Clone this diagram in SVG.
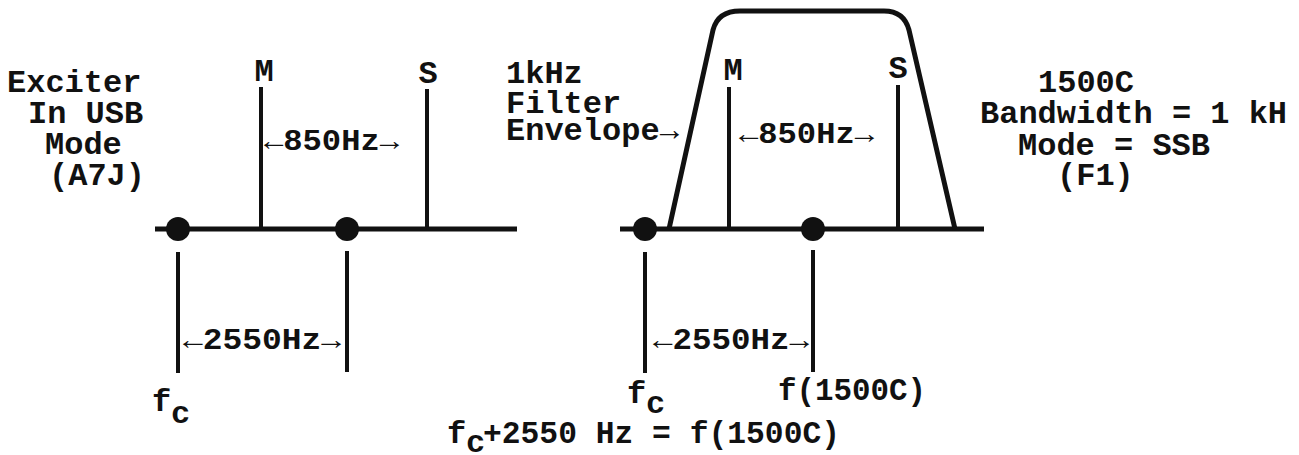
<svg xmlns="http://www.w3.org/2000/svg" width="1299" height="455" viewBox="0 0 1299 455">
<style>
.t{font-family:"Liberation Mono","DejaVu Sans Mono",monospace;font-weight:bold;font-size:32px;fill:#111}
.s{font-size:29px}
.ln{stroke:#111;stroke-width:4;fill:none;stroke-linecap:butt}
.ax{stroke:#111;stroke-width:5;fill:none}
.dot{fill:#111}
</style>
<rect width="1299" height="455" fill="#fff"/>
<g id="connectors">
  <line class="ax" x1="155" y1="229" x2="517" y2="229"/>
  <line class="ln" x1="261" y1="87" x2="261" y2="229"/>
  <line class="ln" x1="427" y1="89" x2="427" y2="229"/>
  <line class="ln" x1="178" y1="252" x2="178" y2="373"/>
  <line class="ln" x1="347" y1="251" x2="347" y2="372"/>
  <line class="ax" x1="620" y1="229" x2="984" y2="229"/>
  <line class="ln" x1="729" y1="87" x2="729" y2="229"/>
  <line class="ln" x1="898" y1="85" x2="898" y2="229"/>
  <line class="ln" x1="645" y1="252" x2="645" y2="373"/>
  <line class="ln" x1="813" y1="250" x2="813" y2="372"/>
  <path class="ax" d="M669,229 L713,30 Q718,11 740,11 L884,11 Q904,11 909,30 L955,229"/>
</g>
<g id="dots">
  <circle class="dot" cx="178" cy="229" r="12"/>
  <circle class="dot" cx="347" cy="229" r="12"/>
  <circle class="dot" cx="645" cy="229" r="12"/>
  <circle class="dot" cx="813" cy="229" r="12"/>
</g>
<g id="exciter-label">
  <text class="t" x="7" y="92">Exciter</text>
  <text class="t" x="28" y="123">In USB</text>
  <text class="t" x="45" y="154">Mode</text>
  <text class="t" x="49" y="185">(A7J)</text>
</g>
<g id="left-M"><text class="t" x="264" y="81" text-anchor="middle">M</text></g>
<g id="left-S"><text class="t" x="428" y="83" text-anchor="middle">S</text></g>
<g id="left-850"><text class="t s" x="264" y="150" textLength="135" lengthAdjust="spacingAndGlyphs">←850Hz→</text></g>
<g id="left-2550"><text class="t s" x="183" y="349" textLength="158" lengthAdjust="spacingAndGlyphs">←2550Hz→</text></g>
<g id="left-fc"><text class="t" x="152" y="411">f</text><text class="t" x="171" y="423">c</text></g>
<g id="filter-label">
  <text class="t" x="506" y="83">1kHz</text>
  <text class="t" x="506" y="113">Filter</text>
  <text class="t" x="506" y="140">Envelope→</text>
</g>
<g id="right-M"><text class="t" x="733" y="80" text-anchor="middle">M</text></g>
<g id="right-S"><text class="t" x="898" y="78" text-anchor="middle">S</text></g>
<g id="right-850"><text class="t s" x="739" y="143" textLength="135" lengthAdjust="spacingAndGlyphs">←850Hz→</text></g>
<g id="right-2550"><text class="t s" x="653" y="349" textLength="156" lengthAdjust="spacingAndGlyphs">←2550Hz→</text></g>
<g id="right-fc"><text class="t" x="627" y="403">f</text><text class="t" x="646" y="413">c</text></g>
<g id="f1500c"><text class="t" x="778" y="400" textLength="148" lengthAdjust="spacingAndGlyphs">f(1500C)</text></g>
<g id="formula">
  <text class="t" x="447" y="443">f</text><text class="t" x="466" y="452">c</text>
  <text class="t" x="483" y="443" textLength="357" lengthAdjust="spacingAndGlyphs">+2550 Hz = f(1500C)</text>
</g>
<g id="mode-label">
  <text class="t" x="1038" y="92">1500C</text>
  <text class="t" x="980" y="123" textLength="307" lengthAdjust="spacingAndGlyphs">Bandwidth = 1 kH</text>
  <text class="t" x="1018" y="155" textLength="192" lengthAdjust="spacingAndGlyphs">Mode = SSB</text>
  <text class="t" x="1057" y="185">(F1)</text>
</g>
</svg>
